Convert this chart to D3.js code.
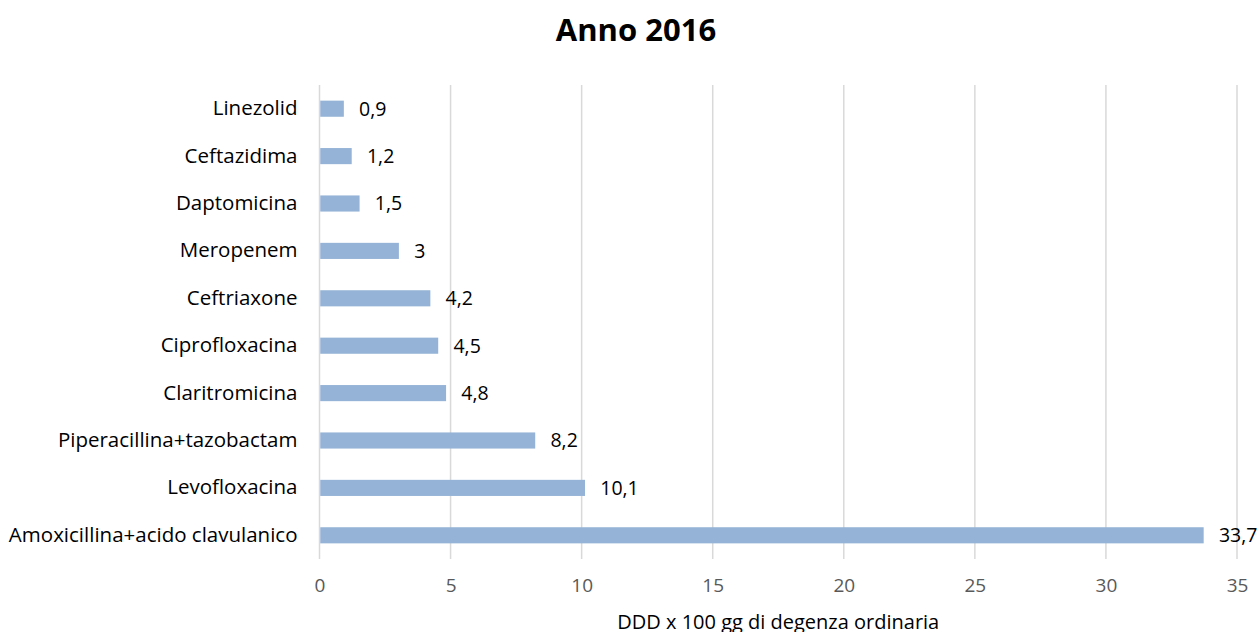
<!DOCTYPE html>
<html>
<head>
<meta charset="utf-8">
<script src="https://cdn.jsdelivr.net/npm/d3@7"></script>
<style>
  html, body { margin: 0; padding: 0; background: #fff; }
  svg { display: block; font-family: "Open Sans", "Noto Sans", sans-serif; }
</style>
</head>
<body>
<svg id="chart" width="1260" height="632"></svg>
<script>
// Consumo antibiotici, anno 2016
const categories = [
  "Linezolid",
  "Ceftazidima",
  "Daptomicina",
  "Meropenem",
  "Ceftriaxone",
  "Ciprofloxacina",
  "Claritromicina",
  "Piperacillina+tazobactam",
  "Levofloxacina",
  "Amoxicillina+acido clavulanico"
];
const values = [0.9, 1.2, 1.5, 3, 4.2, 4.5, 4.8, 8.2, 10.1, 33.7];
const xTicks = [0, 5, 10, 15, 20, 25, 30, 35];
const title = "Anno 2016";
const xTitle = "DDD x 100 gg di degenza ordinaria";

const svg = d3.select("#chart");
const margin = { left: 319.5, right: 23, top: 85, bottom: 73 };
const W = 1260, H = 632;
const FONT = "\"Open Sans\", \"Noto Sans\", sans-serif";

const x = d3.scaleLinear().domain([0, 35]).range([margin.left, W - margin.right]);
const y = d3.scaleBand().domain(categories).range([margin.top, H - margin.bottom]).paddingInner(0.66).paddingOuter(0.33);

const fmt = v => String(v).replace(".", ",");

// vertical gridlines
svg.append("g")
  .selectAll("line")
  .data(xTicks)
  .join("line")
  .attr("x1", d => x(d)).attr("x2", d => x(d))
  .attr("y1", margin.top).attr("y2", H - margin.bottom)
  .attr("stroke", "#d9d9d9")
  .attr("stroke-width", 1.5);

// bars
svg.append("g")
  .selectAll("rect")
  .data(values)
  .join("rect")
  .attr("x", x(0) + 0.75)
  .attr("y", (d, i) => y(categories[i]))
  .attr("width", d => x(d) - x(0))
  .attr("height", y.bandwidth())
  .attr("fill", "#95b3d7");

// value labels
svg.append("g")
  .selectAll("text")
  .data(values)
  .join("text")
  .attr("x", d => x(d) + 16)
  .attr("y", (d, i) => y(categories[i]) + y.bandwidth() / 2)
  .attr("dy", "0.35em")
  .attr("font-size", 19.5)
  .attr("fill", "#000")
  .text(d => fmt(d));

// category axis
const yAxis = d3.axisLeft(y).tickSize(0).tickPadding(22);
const gy = svg.append("g").attr("transform", `translate(${margin.left},0)`).call(yAxis);
gy.select(".domain").remove();
gy.selectAll("text")
  .attr("font-size", 20.5)
  .attr("font-family", FONT)
  .attr("fill", "#000");

// value axis
const xAxis = d3.axisBottom(x).tickValues(xTicks).tickSize(0).tickPadding(20).tickFormat(d => d);
const gx = svg.append("g").attr("transform", `translate(0,${H - margin.bottom})`).call(xAxis);
gx.select(".domain").remove();
gx.selectAll("text")
  .attr("font-size", 19)
  .attr("font-family", FONT)
  .attr("fill", "#595959");

// titles
svg.append("text")
  .attr("x", 636).attr("y", 41)
  .attr("text-anchor", "middle")
  .attr("font-size", 31)
  .attr("font-weight", "bold")
  .attr("fill", "#000")
  .text(title);

svg.append("text")
  .attr("x", (x(0) + x(35)) / 2).attr("y", 629)
  .attr("text-anchor", "middle")
  .attr("font-size", 20)
  .attr("fill", "#000")
  .text(xTitle);
</script>
</body>
</html>
